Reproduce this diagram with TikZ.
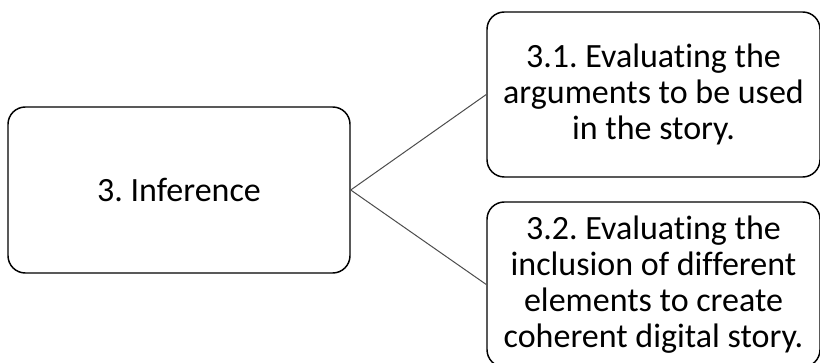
\documentclass[tikz,border=0pt]{standalone}
\usepackage{fontspec}
\setmainfont[Ligatures=NoCommon]{Carlito}
\frenchspacing
\begin{document}
\begin{tikzpicture}[x=0.75pt,y=0.75pt,yscale=-1,xscale=1]
\tikzset{box/.style={draw, line width=1.1pt, rounded corners=13pt, align=center, inner sep=0pt, font=\fontsize{25.5}{27}\selectfont}}
\useasboundingbox (0,0) rectangle (820,363);

%Shape: Rounded Rect [id:infer] 
\node [box, minimum width=256.5pt, minimum height=124.5pt] (infer) at (179,190) {3. Inference};
%Shape: Rounded Rect [id:args] 
\node [box, minimum width=249.75pt, minimum height=123.75pt] (args) at (653.5,94.5) {3.1. Evaluating the\\arguments to be used\\in the story.};
%Shape: Rounded Rect [id:incl] 
\node [box, minimum width=249.75pt, minimum height=123.75pt] (incl) at (653.5,284.5) {3.2. Evaluating the\\inclusion of different\\elements to create\\coherent digital story.};

%Straight Lines
\draw [color=black!70, line width=0.75pt] (infer.east) -- (args.west) ;
\draw [color=black!70, line width=0.75pt] (infer.east) -- (incl.west) ;

\end{tikzpicture}
\end{document}
